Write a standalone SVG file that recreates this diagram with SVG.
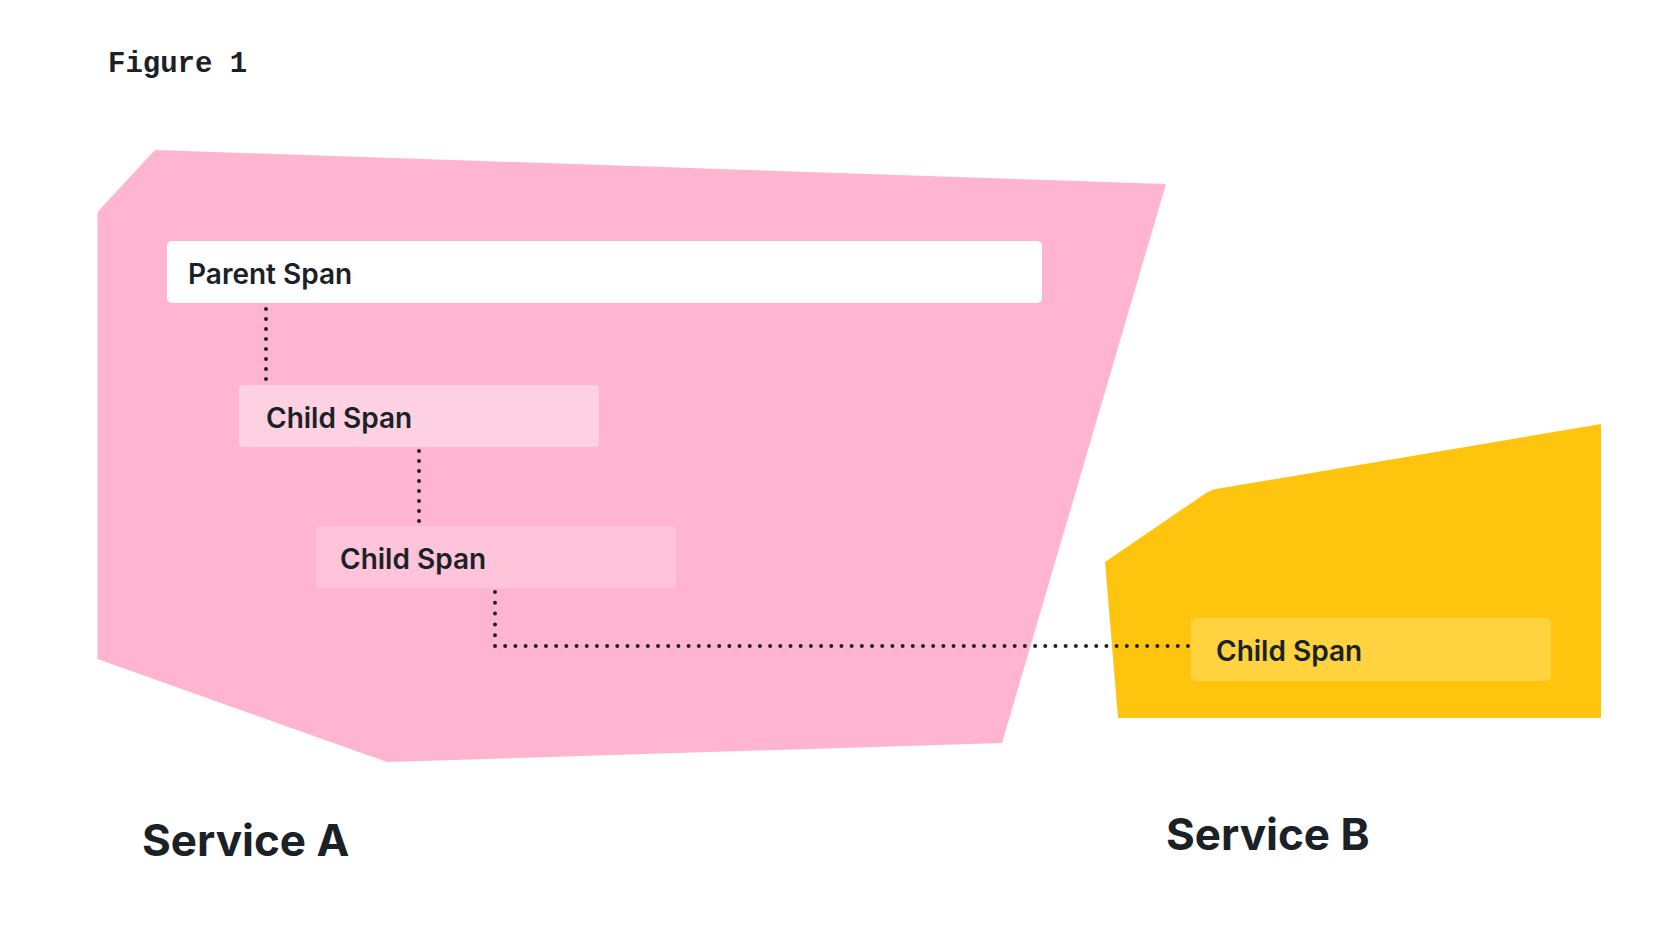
<svg xmlns="http://www.w3.org/2000/svg" width="1680" height="936" viewBox="0 0 1680 936">
<style>
.lbl{font-family:Inter,"Noto Sans","Liberation Sans",sans-serif;font-weight:600;font-size:28px;fill:#1A2227}
.svc{font-family:Inter,"Noto Sans","Liberation Sans",sans-serif;font-weight:700;font-size:44px;fill:#1A2227}
.fig{font-family:"Liberation Mono","DejaVu Sans Mono",monospace;font-weight:700;font-size:29px;fill:#1A2227}
.dot{fill:none;stroke:#1A2227;stroke-width:4;stroke-linecap:round}
</style>
<rect width="1680" height="936" fill="#FFFFFF"/>
<text class="fig" x="108" y="72">Figure 1</text>
<g id="service-a">
<polygon points="155,150 1166,184 1002,743 387,762 97.5,659 97.5,212" fill="#FFB4CF"/>
<text class="svc" x="142" y="856">Service A</text>
</g>
<g id="service-b">
<path d="M1105,562 L1206,493 Q1211,490 1216,489 L1601,424 L1601,718 L1118,718 Z" fill="#FFC50E"/>
<text class="svc" x="1166" y="850">Service B</text>
</g>
<g id="connectors">
<line class="dot" x1="266" y1="309" x2="266" y2="379.6" stroke-dasharray="0 10"/>
<line class="dot" x1="419" y1="451" x2="419" y2="521.6" stroke-dasharray="0 10"/>
<line class="dot" x1="495" y1="592" x2="495" y2="646" stroke-dasharray="0 10.8"/>
<line class="dot" x1="495" y1="646" x2="1188.5" y2="646" stroke-dasharray="0 10.19"/>
</g>
<g id="parent-span">
<rect x="167" y="241" width="875" height="62" rx="5" fill="#FFFFFF"/>
<text class="lbl" x="188" y="283.5">Parent Span</text>
</g>
<g id="child-span-1">
<rect x="239" y="385" width="360" height="62" rx="4" fill="#FDD1E1"/>
<text class="lbl" x="266" y="427.5">Child Span</text>
</g>
<g id="child-span-2">
<rect x="316" y="526" width="360" height="62" rx="4" fill="#FFC4DA"/>
<text class="lbl" x="340" y="568.5">Child Span</text>
</g>
<g id="child-span-3">
<rect x="1191" y="618" width="360" height="63" rx="5" fill="#FFD23F"/>
<text class="lbl" x="1216" y="660.5">Child Span</text>
</g>
</svg>
